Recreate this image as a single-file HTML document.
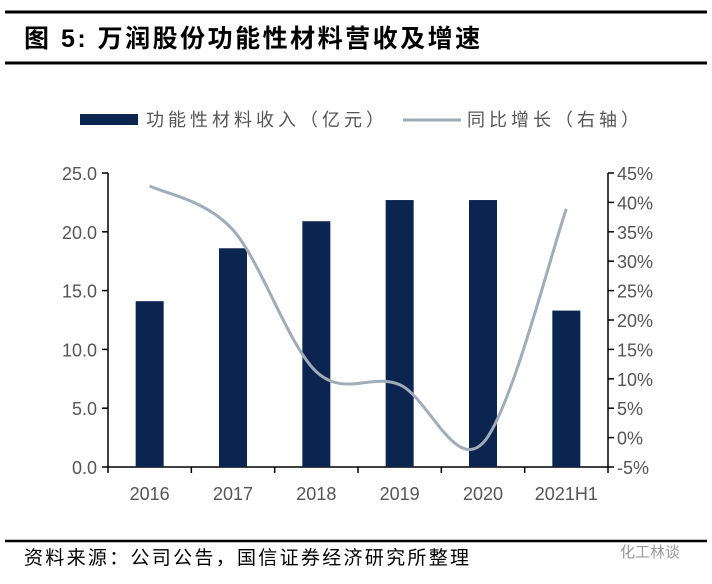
<!DOCTYPE html>
<html><head><meta charset="utf-8"><style>
body{margin:0;background:#fff;width:712px;height:579px;overflow:hidden;font-family:"Liberation Sans","Noto Sans CJK SC",sans-serif;}
</style></head><body>
<svg width="712" height="579" viewBox="0 0 712 579" xmlns="http://www.w3.org/2000/svg">
<line x1="5" y1="12" x2="707" y2="12" stroke="#000" stroke-width="3"/>
<text x="24" y="47" font-size="25" font-weight="bold" fill="#000" letter-spacing="2.5" font-family="Liberation Sans,Noto Sans CJK SC,sans-serif">图 5:  万润股份功能性材料营收及增速</text>
<line x1="5" y1="63" x2="707" y2="63" stroke="#000" stroke-width="3"/>
<g>
<rect x="80" y="114" width="58" height="11" fill="#0c2550"/>
<text x="146" y="126" font-size="18" fill="#555" letter-spacing="4">功能性材料收入（亿元）</text>
<line x1="403" y1="120" x2="461" y2="120" stroke="#a0acb8" stroke-width="3"/>
<text x="467" y="126" font-size="18" fill="#555" letter-spacing="4">同比增长（右轴）</text>
</g>
<g id="plot"></g>
<line x1="5" y1="541" x2="707" y2="541" stroke="#000" stroke-width="2.5"/>
<text x="24" y="564" font-size="19" fill="#000" letter-spacing="2.3">资料来源：公司公告，国信证券经济研究所整理</text>
<text x="620" y="557" font-size="15" fill="#999">化工林谈</text>
</svg>
<script>
const categories=["2016","2017","2018","2019","2020","2021H1"];
const revenue=[14.1,18.6,20.9,22.7,22.7,13.3];
const growth=[42.8,35.3,11.2,9.0,-0.9,38.9];
const leftTicks=["0.0","5.0","10.0","15.0","20.0","25.0"];
const rightTicks=["-5%","0%","5%","10%","15%","20%","25%","30%","35%","40%","45%"];
const NS="http://www.w3.org/2000/svg";
const g=document.getElementById('plot');
const X0=108,X1=608,Y0=467,Y1=173;
const bw=(X1-X0)/categories.length;
const yL=v=>Y0-(v/25)*(Y0-Y1);
const yR=v=>Y0-((v+5)/50)*(Y0-Y1);
const xC=i=>X0+bw*(i+0.5);
function mk(t,a){const e=document.createElementNS(NS,t);for(const k in a)e.setAttribute(k,a[k]);g.appendChild(e);return e;}
let ax=mk('line',{x1:X0,y1:Y0,x2:X1,y2:Y0,stroke:'#000','stroke-width':1.5});


let la=mk('line',{x1:X0,y1:Y1,x2:X0,y2:Y0,stroke:'#000','stroke-width':1.5});


let ra=mk('line',{x1:X1,y1:Y1,x2:X1,y2:Y0,stroke:'#000','stroke-width':1.5});


leftTicks.forEach((t,i)=>{const v=parseFloat(t);const y=yL(v);
mk('line',{x1:X0-6,y1:y,x2:X0,y2:y,stroke:'#000','stroke-width':1.5});
const e=mk('text',{x:X0-11,y:y+7,'font-size':18,fill:'#555','text-anchor':'end'});e.textContent=t;

});
rightTicks.forEach(t=>{const v=parseFloat(t);const y=yR(v);
mk('line',{x1:X1,y1:y,x2:X1+6,y2:y,stroke:'#000','stroke-width':1.5});
const e=mk('text',{x:X1+9,y:y+7,'font-size':18,fill:'#555'});e.textContent=t;

});
for(let i=0;i<=categories.length;i++){const x=X0+bw*i;mk('line',{x1:x,y1:Y0,x2:x,y2:Y0+6,stroke:'#000','stroke-width':1.5});}
categories.forEach((c,i)=>{const e=mk('text',{x:xC(i),y:Y0+33,'font-size':18,fill:'#555','text-anchor':'middle'});e.textContent=c;

});
revenue.forEach((v,i)=>{const b=mk('rect',{x:xC(i)-14,y:yL(v),width:28,height:Y0-yL(v),fill:'#0c2550'});

});
const pts=growth.map((v,i)=>[xC(i),yR(v)]);
let d='M'+pts[0][0]+','+pts[0][1];
for(let i=0;i<pts.length-1;i++){const p0=pts[Math.max(0,i-1)],p1=pts[i],p2=pts[i+1],p3=pts[Math.min(pts.length-1,i+2)];
const c1=[p1[0]+(p2[0]-p0[0])/6,p1[1]+(p2[1]-p0[1])/6],c2=[p2[0]-(p3[0]-p1[0])/6,p2[1]-(p3[1]-p1[1])/6];
d+=' C'+c1+' '+c2+' '+p2;}
const ln=mk('path',{d:d,fill:'none',stroke:'#a0acb8','stroke-width':3});


</script>
</body></html>
